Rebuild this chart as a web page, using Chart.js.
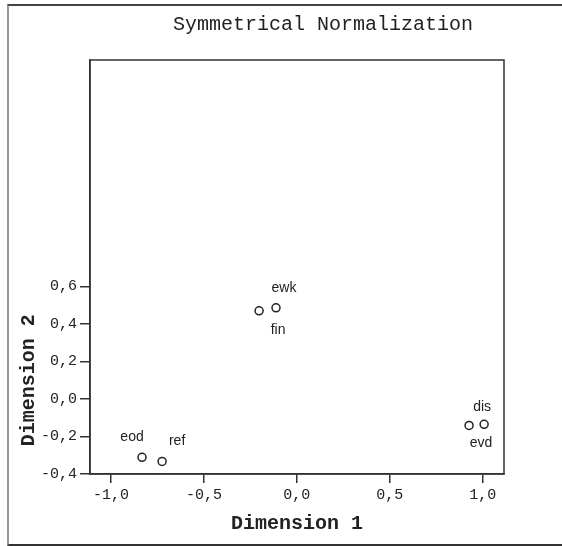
<!DOCTYPE html>
<html>
<head>
<meta charset="utf-8">
<script src="https://cdn.jsdelivr.net/npm/chart.js@4/dist/chart.umd.min.js"></script>
<style>
    body { margin: 0; background: #fff; }
    #wrap { position: relative; width: 562px; height: 546px; }
    #frame {
        position: absolute; left: 7px; top: 4px; width: 560px; height: 538px;
        border-top: 2px solid #444; border-left: 2px solid #999; border-bottom: 2px solid #333;
    }
    #chart { position: absolute; left: 0; top: 0; }
</style>
</head>
<body>
<div id="wrap">
    <div id="frame"></div>
    <canvas id="chart" width="562" height="546"></canvas>
</div>
<script>
// 点のデータ
var pointLabels = ['fin', 'ewk', 'eod', 'ref', 'dis', 'evd'];
var dim1Values = [-0.203, -0.112, -0.833, -0.725, 1.008, 0.927];
var dim2Values = [0.470, 0.486, -0.311, -0.333, -0.135, -0.141];
var xTickValues = [-1.0, -0.5, 0.0, 0.5, 1.0];
var yTickValues = [-0.4, -0.2, 0.0, 0.2, 0.4, 0.6];

var chartTitle = 'Symmetrical Normalization';
var xTitle = 'Dimension 1';
var yTitle = 'Dimension 2';

// ラベルのずれ (px)
var labelOffsets = {
    fin: [19, 19], ewk: [8, -20], eod: [-10, -20],
    ref: [15, -20], dis: [-2, -17], evd: [12, 18]
};

var monoFont = "'Liberation Mono', 'Courier New', monospace";
var sansFont = "'Liberation Sans', Arial, sans-serif";

function fmt(v) {
    return v.toFixed(1).replace('.', ',');
}

var points = [];
for (var i = 0; i < pointLabels.length; i++) {
    points.push({ x: dim1Values[i], y: dim2Values[i], label: pointLabels[i] });
}

// 枠・タイトル・ラベルを描く
var decoPlugin = {
    id: 'deco',
    afterDraw: function (chart) {
        var ctx = chart.ctx;
        var area = chart.chartArea;
        var xs = chart.scales.x;
        var ys = chart.scales.y;
        ctx.save();
        ctx.strokeStyle = '#333';
        ctx.lineWidth = 1.5;
        ctx.strokeRect(area.left, area.top, area.right - area.left, area.bottom - area.top);

        ctx.fillStyle = '#222';
        ctx.textAlign = 'center';
        ctx.textBaseline = 'middle';
        ctx.font = '20px ' + monoFont;
        ctx.fillText(chartTitle, 323, 25);

        ctx.font = 'bold 20px ' + monoFont;
        ctx.fillText(xTitle, (area.left + area.right) / 2, 524);

        var yMid = (ys.getPixelForValue(yTickValues[0]) + ys.getPixelForValue(yTickValues[yTickValues.length - 1])) / 2;
        ctx.save();
        ctx.translate(29, yMid);
        ctx.rotate(-Math.PI / 2);
        ctx.fillText(yTitle, 0, 0);
        ctx.restore();

        ctx.font = '14px ' + sansFont;
        for (var i = 0; i < points.length; i++) {
            var p = points[i];
            var off = labelOffsets[p.label];
            ctx.fillText(p.label, xs.getPixelForValue(p.x) + off[0], ys.getPixelForValue(p.y) + off[1]);
        }
        ctx.restore();
    }
};

var ctx = document.getElementById('chart');
var scatter = new Chart(ctx, {
    type: 'scatter',
    data: {
        datasets: [{
            data: points,
            pointStyle: 'circle',
            pointRadius: 4,
            pointHoverRadius: 4,
            borderWidth: 1.5,
            borderColor: '#222',
            backgroundColor: '#fff'
        }]
    },
    options: {
        responsive: false,
        animation: false,
        events: [],
        layout: { padding: { top: 60, right: 58, left: 0, bottom: 0 } },
        plugins: { legend: { display: false }, tooltip: { enabled: false }, title: { display: false } },
        scales: {
            x: {
                type: 'linear',
                min: -1.113,
                max: 1.115,
                afterBuildTicks: function (scale) {
                    scale.ticks = xTickValues.map(function (v) { return { value: v }; });
                },
                afterFit: function (scale) { scale.height = 72; },
                grid: { drawOnChartArea: false, drawTicks: true, tickLength: 9, color: '#333', lineWidth: 1.5 },
                border: { display: true, color: '#333', width: 1.5 },
                ticks: {
                    color: '#222',
                    padding: 3,
                    maxRotation: 0,
                    font: { family: monoFont, size: 15 },
                    callback: function (v) { return fmt(v); }
                }
            },
            y: {
                type: 'linear',
                min: -0.4,
                max: 1.807,
                afterBuildTicks: function (scale) {
                    scale.ticks = yTickValues.map(function (v) { return { value: v }; });
                },
                afterFit: function (scale) { scale.width = 90; },
                grid: { drawOnChartArea: false, drawTicks: true, tickLength: 10, color: '#333', lineWidth: 1.5 },
                border: { display: true, color: '#333', width: 1.5 },
                ticks: {
                    color: '#222',
                    padding: 3,
                    font: { family: monoFont, size: 15 },
                    callback: function (v) { return fmt(v); }
                }
            }
        }
    },
    plugins: [decoPlugin]
});
</script>
</body>
</html>
